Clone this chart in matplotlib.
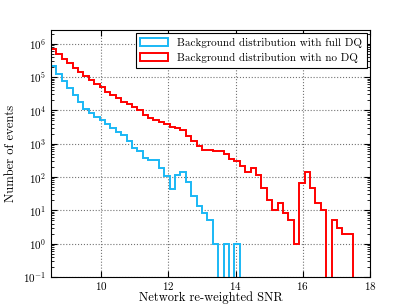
import numpy as np
import matplotlib
matplotlib.use("Agg")
import matplotlib.pyplot as plt

plt.rcParams['font.family'] = 'serif'
plt.rcParams['font.serif'] = ['cmr10']
plt.rcParams['mathtext.fontset'] = 'cm'
plt.rcParams['axes.formatter.use_mathtext'] = True
plt.rcParams['font.size'] = 8

# histogram bins (network re-weighted SNR)
edges = np.linspace(8.5, 17.5, 57)

# counts per bin, background with no DQ
no_dq = [676000, 501000, 355000, 257000, 186000, 140000, 106000, 79400,
         61700, 49000, 36300, 28800, 22900, 18200, 15800, 12900, 10000,
         7410, 5750, 5250, 4470, 3980, 3160, 2880, 2510, 1740, 1175, 871,
         661, 661, 617, 617, 490, 355, 309, 214, 145, 186, 115, 46, 21, 10,
         16, 8, 5, 1, 65, 138, 46, 17, 10, 0, 5, 3, 2, 2]

# counts per bin, background with full DQ
full_dq = [219000, 126000, 75900, 47900, 29500, 17800, 11200, 8510, 6310,
           5010, 3800, 3020, 2290, 1780, 1200, 741, 589, 372, 331, 331, 186,
           105, 44, 112, 138, 69, 27, 13, 8, 5, 1, 0, 1, 0, 1, 0, 0, 0, 0,
           0, 0, 0, 0, 0, 0, 0, 0, 0, 0, 0, 0, 0, 0, 0, 0, 0]

fig = plt.figure(figsize=(4.11, 3.08), dpi=100)
ax = fig.add_axes([0.124, 0.101, 0.776, 0.802])

centers = 0.5 * (edges[:-1] + edges[1:])
ax.hist(centers, bins=edges, weights=full_dq, histtype='step',
        color='#1ab8f5', lw=1.4, label='Background distribution with full DQ')
ax.hist(centers, bins=edges, weights=no_dq, histtype='step',
        color='red', lw=1.4, label='Background distribution with no DQ')

ax.set_yscale('log')
ax.set_xlim(8.5, 18)
ax.set_ylim(0.1, 2.6e6)
ax.set_xticks([10, 12, 14, 16, 18])

ax.grid(True, linestyle=':', color='0.45', lw=0.8)
ax.tick_params(which='both', direction='in', top=True, right=True)
ax.tick_params(which='major', length=4)
ax.tick_params(which='minor', length=2)
ax.tick_params(axis='x', pad=2)

ax.set_xlabel('Network re-weighted SNR', fontsize=9, labelpad=0)
ax.set_ylabel('Number of events', fontsize=9)

leg = ax.legend(loc='upper right', fancybox=False, framealpha=1,
                edgecolor='black', fontsize=8, borderaxespad=0.3,
                handlelength=2.5)
leg.get_frame().set_linewidth(0.8)

fig.savefig('out.png', dpi=100)
